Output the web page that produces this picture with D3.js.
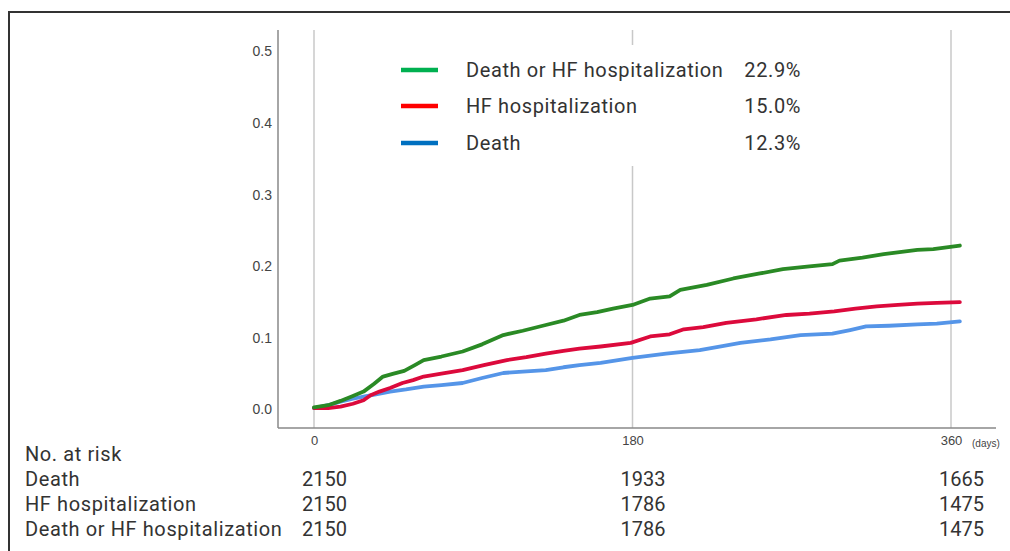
<!DOCTYPE html>
<html>
<head>
<meta charset="utf-8">
<script src="https://cdn.jsdelivr.net/npm/d3@7"></script>
<style>
  html, body { margin: 0; padding: 0; background: #fff; }
  svg { display: block; }
  text { font-family: Roboto, "Noto Sans", sans-serif; letter-spacing: 0.6px; }
  text.count { letter-spacing: 0; }
  .tick text, .unit { font-family: "Liberation Sans", Arial, sans-serif; letter-spacing: 0; }
</style>
</head>
<body>
<svg id="chart" width="1010" height="551"></svg>
<script>
// Cumulative incidence (days since enrolment -> proportion)
const deathOrHfDays = [0, 8, 15, 22, 28, 34, 39, 45, 51, 57, 62, 72, 84, 95, 107, 118, 131, 141, 150, 160, 169, 180, 190, 201, 207, 222, 237, 252, 265, 280, 293, 297, 310, 322, 341, 350, 365];
const deathOrHfVals = [0.003, 0.006, 0.012, 0.019, 0.025, 0.036, 0.046, 0.050, 0.054, 0.062, 0.069, 0.074, 0.081, 0.091, 0.104, 0.110, 0.118, 0.124, 0.132, 0.136, 0.141, 0.146, 0.155, 0.158, 0.167, 0.174, 0.183, 0.190, 0.196, 0.200, 0.203, 0.208, 0.212, 0.217, 0.223, 0.224, 0.229];

const hfDays = [0, 8, 15, 22, 28, 32, 37, 43, 50, 56, 62, 72, 84, 96, 109, 120, 131, 141, 150, 162, 179, 190, 201, 209, 220, 233, 250, 267, 280, 294, 306, 318, 330, 341, 352, 365];
const hfVals = [0.002, 0.002, 0.004, 0.008, 0.013, 0.020, 0.025, 0.030, 0.037, 0.041, 0.046, 0.050, 0.055, 0.062, 0.069, 0.073, 0.078, 0.082, 0.085, 0.088, 0.093, 0.102, 0.105, 0.112, 0.115, 0.121, 0.126, 0.132, 0.134, 0.137, 0.141, 0.144, 0.146, 0.148, 0.149, 0.150];

const deathDays = [0, 8, 15, 22, 28, 35, 43, 52, 62, 72, 84, 95, 107, 118, 131, 141, 150, 162, 180, 199, 218, 230, 241, 258, 275, 293, 303, 312, 325, 341, 352, 365];
const deathVals = [0.002, 0.006, 0.011, 0.015, 0.018, 0.021, 0.025, 0.028, 0.032, 0.034, 0.037, 0.044, 0.051, 0.053, 0.055, 0.059, 0.062, 0.065, 0.072, 0.078, 0.083, 0.088, 0.093, 0.098, 0.104, 0.106, 0.111, 0.116, 0.117, 0.119, 0.120, 0.123];

// Legend
const legendLabels = ["Death or HF hospitalization", "HF hospitalization", "Death"];
const legendRates = ["22.9%", "15.0%", "12.3%"];

// Axis ticks
const xTickValues = [0, 180, 360];
const yTickValues = [0.0, 0.1, 0.2, 0.3, 0.4, 0.5];

// Number at risk table
const riskRowLabels = ["Death", "HF hospitalization", "Death or HF hospitalization"];
const riskDeath = [2150, 1933, 1665];
const riskHf = [2150, 1786, 1475];
const riskDeathOrHf = [2150, 1786, 1475];

const svg = d3.select("#chart");

// Outer frame (top and left edges)
svg.append("path")
  .attr("d", "M9,551 L9,12 L1010,12")
  .attr("fill", "none")
  .attr("stroke", "#333")
  .attr("stroke-width", 2);

const x = d3.scaleLinear().domain([0, 180]).range([314, 632.5]);
const y = d3.scaleLinear().domain([0, 0.5]).range([409.5, 51.5]);

const axisLeftX = 278, axisBottomY = 428, plotTop = 30, plotRight = 996;

// Vertical gridlines
svg.append("g").selectAll("line")
  .data(xTickValues)
  .join("line")
  .attr("x1", d => x(d)).attr("x2", d => x(d))
  .attr("y1", plotTop).attr("y2", axisBottomY)
  .attr("stroke", "#c8c8c8")
  .attr("stroke-width", 1.5);

// Axes drawn with d3-axis, then restyled
const yAxis = svg.append("g")
  .attr("transform", `translate(${axisLeftX},0)`)
  .call(d3.axisLeft(y).tickValues(yTickValues).tickFormat(d3.format(".1f")).tickSize(0).tickPadding(6));
yAxis.select(".domain").remove();
yAxis.selectAll("text").attr("fill", "#444").style("font-size", "14px");

const xAxis = svg.append("g")
  .attr("transform", `translate(0,${axisBottomY})`)
  .call(d3.axisBottom(x).tickValues(xTickValues).tickFormat(d3.format("d")).tickSize(0).tickPadding(8));
xAxis.select(".domain").remove();
xAxis.selectAll("text").attr("fill", "#444").style("font-size", "13px");

svg.append("line")
  .attr("x1", axisLeftX).attr("x2", axisLeftX)
  .attr("y1", plotTop).attr("y2", axisBottomY)
  .attr("stroke", "#888").attr("stroke-width", 1.5);
svg.append("line")
  .attr("x1", axisLeftX).attr("x2", plotRight)
  .attr("y1", axisBottomY).attr("y2", axisBottomY)
  .attr("stroke", "#888").attr("stroke-width", 1.5);

svg.append("text")
  .attr("class", "unit")
  .attr("x", 972).attr("y", axisBottomY + 19)
  .attr("fill", "#444")
  .style("font-size", "10px")
  .text("(days)");

// Curves
const line = d3.line()
  .x(d => x(d[0]))
  .y(d => y(d[1]))
  .curve(d3.curveLinear);

const curves = [
  { days: deathDays, vals: deathVals, color: "#5595e8" },
  { days: hfDays, vals: hfVals, color: "#dc0a3c" },
  { days: deathOrHfDays, vals: deathOrHfVals, color: "#2a8a25" }
];

svg.append("g").selectAll("path")
  .data(curves)
  .join("path")
  .attr("d", c => line(d3.zip(c.days, c.vals)))
  .attr("fill", "none")
  .attr("stroke", d => d.color)
  .attr("stroke-width", 3.8)
  .attr("stroke-linejoin", "round")
  .attr("stroke-linecap", "round");

// Legend, on a white panel that interrupts the gridline beneath it
const legendColors = ["#00b050", "#ff0000", "#0070c0"];
const legendY = [70, 106, 143];
const legend = svg.append("g");
legend.append("rect")
  .attr("x", 390).attr("y", 45).attr("width", 420).attr("height", 121)
  .attr("fill", "#fff");
legendLabels.forEach((label, i) => {
  legend.append("line")
    .attr("x1", 401).attr("x2", 438)
    .attr("y1", legendY[i]).attr("y2", legendY[i])
    .attr("stroke", legendColors[i])
    .attr("stroke-width", 4.5);
  legend.append("text")
    .attr("x", 466).attr("y", legendY[i] + 7)
    .attr("fill", "#333")
    .style("font-size", "20px")
    .text(label);
  legend.append("text")
    .attr("x", 801).attr("y", legendY[i] + 7)
    .attr("text-anchor", "end")
    .attr("fill", "#333")
    .style("font-size", "20px")
    .text(legendRates[i]);
});

// Number at risk table
const table = svg.append("g").attr("fill", "#333").style("font-size", "20px");
table.append("text").attr("x", 25).attr("y", 461).text("No. at risk");
const riskRows = [riskDeath, riskHf, riskDeathOrHf];
const rowY = [486, 511, 536];
riskRows.forEach((row, i) => {
  table.append("text").attr("x", 25).attr("y", rowY[i]).text(riskRowLabels[i]);
  row.forEach((n, j) => {
    table.append("text")
      .attr("class", "count")
      .attr("x", x(xTickValues[j]) - 12)
      .attr("y", rowY[i])
      .text(n);
  });
});
</script>
</body>
</html>
